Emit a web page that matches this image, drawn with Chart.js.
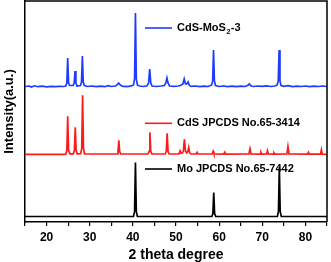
<!DOCTYPE html>
<html><head><meta charset="utf-8">
<script src="https://cdn.jsdelivr.net/npm/chart.js@4/dist/chart.umd.min.js"></script>
<style>html,body{margin:0;padding:0;background:#fff}#w{width:331px;height:262px}</style>
</head><body><div id="w"><canvas id="c" width="331" height="262"></canvas></div>
<script>
const seriesNames = ["CdS-MoS2-3", "CdS JPCDS No.65-3414", "Mo JPCDS No.65-7442"];
const seriesOffsets = [135, 67.7, 5.5];
const xTickLabels = [20, 30, 40, 50, 60, 70, 80];

const blueX = [15,16,16.5,17.2,18,19,20,21,22,23,24,24.45,24.7,24.9,25.1,25.35,26.15,26.4,26.6,26.8,27.05,27.85,28.1,28.3,28.5,28.75,29.5,30.5,31.5,32.5,33.5,34.3,35,36,36.3,36.7,37.1,37.5,38.5,39.5,40.15,40.4,40.6,40.8,41.05,41.5,42.5,43.3,43.65,43.9,44.15,44.45,45.5,46.5,47.3,47.65,47.9,48.15,48.5,49.5,50.5,51,51.6,51.9,52.2,52.5,52.8,53.1,53.5,54.5,55.5,56.5,57.5,58.25,58.5,58.7,58.9,59.15,60,61,62,63,64,65,66,66.6,67,67.4,68,69,70,71,72,73,73.45,73.7,73.9,74.1,74.35,75,76,77,78,79,80,81,82,83,84,85];
const blueY = [0.5,1,0,1.2,0.3,0.8,0.2,0.6,0.3,0.7,0.5,1,4,29,4,1.5,1.5,4,16,4,1,1.5,5,31,5,1.5,0.5,1,0.4,0.8,0.3,1.3,0.5,1,2,4,2,0.8,0.4,0.8,2,8,74,8,2,1,0.5,1.2,4,18,4,1,0.5,1,1.5,4,9,4,1,0.6,1,1.5,3,8,3,3,5,1.5,0.6,1,0.4,0.9,0.5,2,6,37,6,1.5,0.5,1,0.4,0.8,0.4,0.8,0.5,1.5,3,1,0.5,1,0.6,1.2,0.5,1,2,6,37,6,1.5,0.6,1.3,0.4,0.9,0.5,1,0.4,0.8,0.5,1,0.5];

const redX = [15,24.45,24.7,24.9,25.1,25.4,26.2,26.45,26.65,26.85,27.1,27.9,28.15,28.35,28.55,28.8,36.35,36.55,36.75,36.95,37.2,43.5,43.75,43.95,44.15,44.4,47.5,47.75,47.95,48.15,48.4,50.7,50.95,51.2,51.5,51.7,51.95,52.2,52.5,52.75,52.95,53.15,53.5,54.7,54.9,55.1,58.4,58.6,58.8,61.1,61.3,61.5,66.9,67.15,67.4,69.5,69.7,69.9,71,71.2,71.4,72.5,72.7,72.9,75.7,75.95,76.2,80.5,80.7,80.9,83.5,83.7,83.9,85];
const redY = [0,0,4,38,4,0.5,0.5,4,27,4,0.5,0.7,6,59,6,0.5,0.3,2.5,14,2.5,0.3,0.3,3,22,3,0.3,0.3,3,21,3,0.3,0.5,3.5,1,1.5,3,15,3,1.5,3,7,1.5,0.3,0.3,2,0.3,0.3,3,0.3,0.2,2,0.2,0.3,5.5,0.3,0.2,2,0.2,0.3,3.5,0.3,0.2,1.5,0.2,0.3,8,0.3,0.2,2,0.2,0.2,4.5,0.2,0];

const blackX = [15,40.15,40.4,40.6,40.8,41.05,58.3,58.55,58.75,58.95,59.2,73.5,73.75,73.95,74.15,74.4,85];
const blackY = [0,0,5,54,5,0,0,3,24,3,0,0,5,49.5,5,0,0];

const colors = ["#1f3bff", "#ff1a1a", "#000000"];
const legendY = [28, 123.3, 169];

function pts(xs, ys, off) { return xs.map((x, i) => ({x: x, y: ys[i] + off})); }
const xs = [blueX, redX, blackX], ys = [blueY, redY, blackY];
const FONT = "'Liberation Sans', Arial, sans-serif";

const framePlugin = {
  id: 'frame',
  afterDraw(chart) {
    const ctx = chart.ctx, a = chart.chartArea;
    ctx.save();
    ctx.strokeStyle = '#000'; ctx.lineWidth = 1.5;
    ctx.beginPath();
    ctx.moveTo(a.left, a.top); ctx.lineTo(a.right, a.top); ctx.lineTo(a.right, a.bottom);
    ctx.stroke();
    for (let i = 0; i < 3; i++) {
      const y = legendY[i];
      ctx.strokeStyle = colors[i]; ctx.lineWidth = 1.6;
      ctx.beginPath(); ctx.moveTo(145, y); ctx.lineTo(172, y); ctx.stroke();
      ctx.fillStyle = '#000';
      ctx.textBaseline = 'middle'; ctx.textAlign = 'left';
      ctx.font = 'bold 11px ' + FONT;
      if (i === 0) {
        let x = 177;
        ctx.fillText('CdS-MoS', x, y); x += ctx.measureText('CdS-MoS').width + 0.5;
        ctx.font = 'bold 7px ' + FONT;
        ctx.fillText('2', x, y + 4); x += ctx.measureText('2').width + 0.5;
        ctx.font = 'bold 11px ' + FONT;
        ctx.fillText('-3', x, y);
      } else {
        ctx.fillText(seriesNames[i], 177, y);
      }
    }
    ctx.restore();
  }
};

new Chart(document.getElementById('c'), {
  type: 'line',
  data: {
    datasets: [0,1,2].map(i => ({
      label: seriesNames[i],
      data: pts(xs[i], ys[i], seriesOffsets[i]),
      borderColor: colors[i], borderWidth: 1.7,
      pointRadius: 0, tension: 0, fill: false
    }))
  },
  options: {
    responsive: false, animation: false, devicePixelRatio: 1,
    layout: {padding: {left: 0, right: 2, top: 1, bottom: 0}},
    plugins: {legend: {display: false}, tooltip: {enabled: false}},
    scales: {
      x: {
        type: 'linear', min: 15, max: 85,
        afterFit(s) { s.height = 40; },
        border: {display: true, color: '#000', width: 1.5},
        grid: {drawOnChartArea: false, color: '#000', tickLength: 4, lineWidth: 1.2},
        ticks: {
          stepSize: 5, autoSkip: false, maxRotation: 0, padding: 4, color: '#000',
          font: {family: FONT, size: 12, weight: 'bold'},
          callback: v => xTickLabels.includes(v) ? String(v) : ''
        },
        title: {display: true, text: '2 theta degree', color: '#000',
          font: {family: FONT, size: 14, weight: 'bold'}, padding: {top: 0, bottom: -2}}
      },
      y: {
        type: 'linear', min: 0, max: 221,
        afterFit(s) { s.width = 25; },
        border: {display: true, color: '#000', width: 1.5},
        grid: {display: false},
        ticks: {display: false},
        title: {display: true, text: 'Intensity(a.u.)', color: '#000',
          font: {family: FONT, size: 13, weight: 'bold'}, padding: {top: 2, bottom: 0}}
      }
    }
  },
  plugins: [framePlugin]
});
</script>
</body></html>
